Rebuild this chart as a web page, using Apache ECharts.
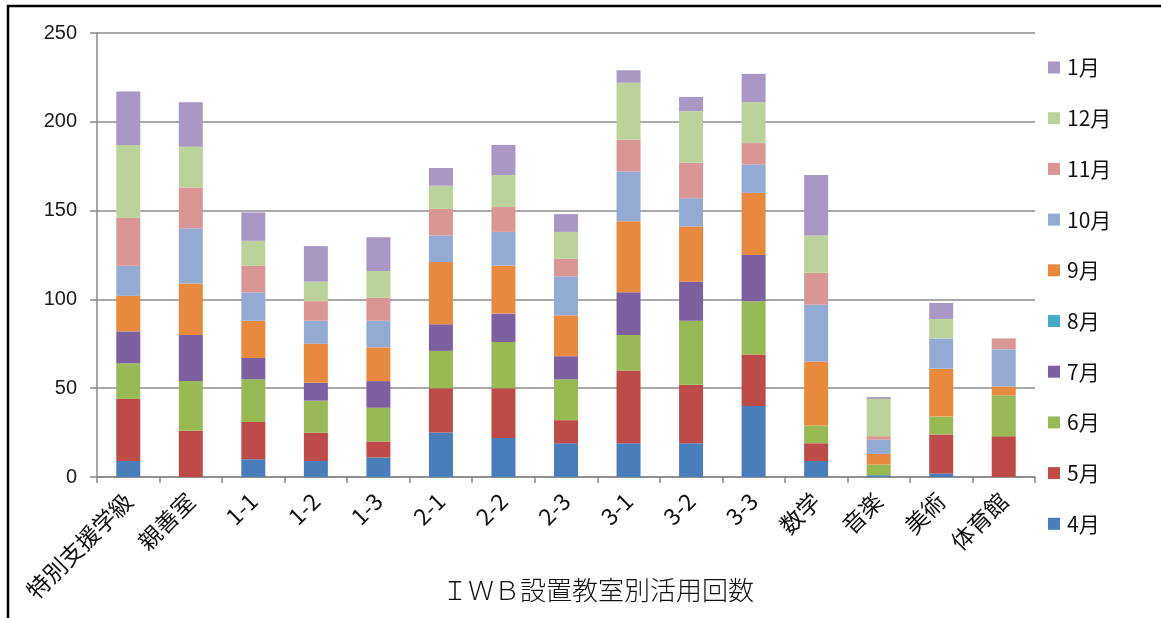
<!DOCTYPE html>
<html>
<head>
<meta charset="utf-8">
<script src="https://cdn.jsdelivr.net/npm/echarts@6/dist/echarts.min.js"></script>
<style>
  html, body { margin: 0; padding: 0; background: #fff; }
  #chart { width: 1161px; height: 618px; }
</style>
</head>
<body>
<div id="chart"></div>
<script>
// 教室 (x軸)
const ROOMS = ['特別支援学級', '親善室', '1-1', '1-2', '1-3', '2-1', '2-2', '2-3', '3-1', '3-2', '3-3', '数学', '音楽', '美術', '体育館'];
const MONTHS = ['4月', '5月', '6月', '7月', '8月', '9月', '10月', '11月', '12月', '1月'];
const Y_TICKS = [0, 50, 100, 150, 200, 250];

// 月別の活用回数 (下から積み上げ)
const APR = [9, 0, 10, 9, 11, 25, 22, 19, 19, 19, 40, 9, 1, 2, 0];
const MAY = [35, 26, 21, 16, 9, 25, 28, 13, 41, 33, 29, 10, 0, 22, 23];
const JUN = [20, 28, 24, 18, 19, 21, 26, 23, 20, 36, 30, 10, 6, 10, 23];
const JUL = [18, 26, 12, 10, 15, 15, 16, 13, 24, 22, 26, 0, 0, 0, 0];
const AUG = [0, 0, 0, 0, 0, 0, 0, 0, 0, 0, 0, 0, 0, 0, 0];
const SEP = [20, 29, 21, 22, 19, 35, 27, 23, 40, 31, 35, 36, 6, 27, 5];
const OCT = [17, 31, 16, 13, 15, 15, 19, 22, 28, 16, 16, 32, 8, 17, 21];
const NOV = [27, 23, 15, 11, 13, 15, 14, 10, 18, 20, 12, 18, 2, 0, 6];
const DEC = [41, 23, 14, 11, 15, 13, 18, 15, 32, 29, 23, 21, 21, 11, 0];
const JAN = [30, 25, 16, 20, 19, 10, 17, 10, 7, 8, 16, 34, 1, 9, 0];

const VALUES = [APR, MAY, JUN, JUL, AUG, SEP, OCT, NOV, DEC, JAN];
const COLOR = ['#4a7ebb', '#be4b48', '#98b954', '#7d60a0', '#46aac5', '#e9893d', '#93abd3', '#d99694', '#bbd29a', '#a998c4'];

const CJK = '"Noto Sans CJK JP", sans-serif';

let series = MONTHS.map((m, i) => ({
  name: m,
  type: 'bar',
  stack: 'total',
  barWidth: 24,
  data: VALUES[i],
  itemStyle: { color: COLOR[i] }
}));

let myChart = echarts.init(document.getElementById('chart'), null, { renderer: 'canvas' });
let option = {
  animation: false,
  color: COLOR,
  grid: { left: 97, right: 126, top: 33, bottom: 141 },
  legend: {
    orient: 'vertical',
    left: 1048,
    top: 57,
    padding: 0,
    itemWidth: 12,
    itemHeight: 12,
    itemGap: 29.7,
    icon: 'rect',
    data: MONTHS.slice().reverse(),
    textStyle: { fontFamily: CJK, fontSize: 21, color: '#111', lineHeight: 21, padding: [0, 0, 0, 2] }
  },
  xAxis: {
    type: 'category',
    data: ROOMS,
    axisLine: { lineStyle: { color: '#888', width: 1.5 } },
    axisTick: { show: true, length: 6, lineStyle: { color: '#888', width: 1.5 } },
    axisLabel: { rotate: 45, margin: 20, interval: 0, fontFamily: CJK, fontSize: 23, color: '#111' }
  },
  yAxis: {
    type: 'value',
    min: Y_TICKS[0],
    max: Y_TICKS[Y_TICKS.length - 1],
    interval: 50,
    axisLine: { show: true, lineStyle: { color: '#888', width: 1.5 } },
    axisTick: { show: true, length: 7, lineStyle: { color: '#888', width: 1.5 } },
    axisLabel: { margin: 20, fontFamily: '"Liberation Sans", sans-serif', fontSize: 20, color: '#1a1a1a' },
    splitLine: { lineStyle: { color: '#8c8c8c', width: 1.5 } }
  },
  graphic: [{
    type: 'rect',
    shape: { x: 8, y: 6, width: 1300, height: 800 },
    style: { fill: 'none', stroke: '#000', lineWidth: 2.5 },
    silent: true
  }, {
    type: 'text',
    x: 598,
    y: 590,
    style: {
      text: 'ＩＷＢ設置教室別活用回数',
      font: '300 26px "Noto Sans CJK JP"',
      fill: '#111',
      textAlign: 'center',
      textVerticalAlign: 'middle'
    }
  }],
  series: series
};
myChart.setOption(option);
</script>
</body>
</html>
